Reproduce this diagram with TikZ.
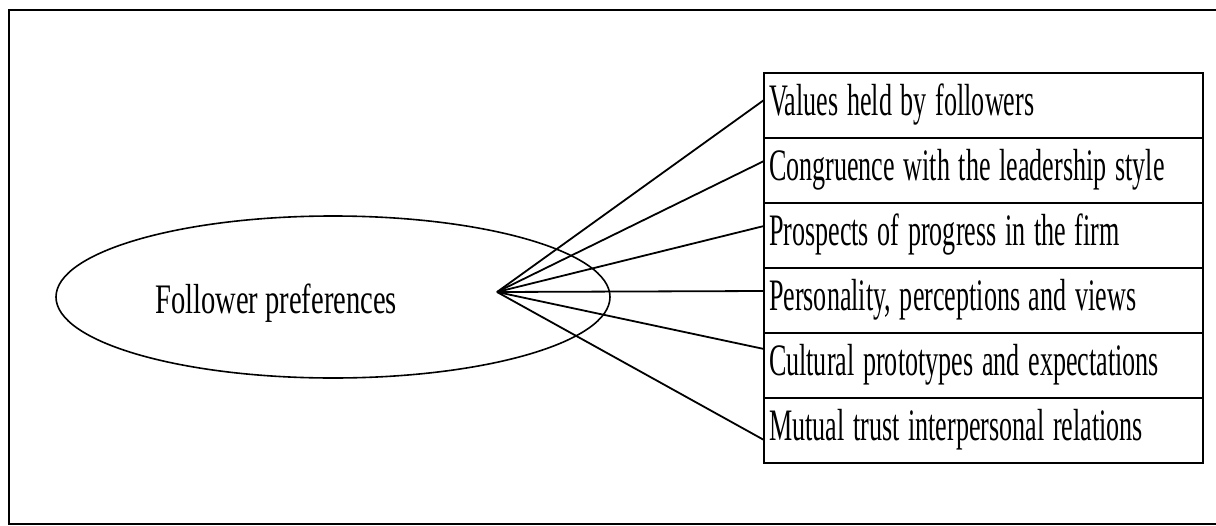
\documentclass[tikz,border=0pt]{standalone}
\usepackage{fontspec}
\setmainfont{Liberation Serif}
\usetikzlibrary{calc,shapes.geometric}
% narrow, tall lettering used throughout the chart
\newcommand\squeezeitem[1]{\scalebox{0.58}[1]{#1}}
\newcommand\squeezehub[1]{\scalebox{0.68}[1]{#1}}
\begin{document}
\begin{tikzpicture}[x=1pt,y=-1pt,
  frame/.style={line width=2.2pt},
  item/.style={draw, line width=1.8pt, anchor=north west,
    minimum width=439pt, minimum height=65pt,
    inner xsep=5pt, inner ysep=0pt, outer sep=0pt,
    text width=429pt, align=left,
    text height=30pt, text depth=11pt,
    font=\fontsize{45}{50}\selectfont},
  link/.style={line width=1.8pt},
  hubshape/.style={draw, ellipse, line width=1.6pt,
    minimum width=554pt, minimum height=162pt, inner sep=0pt}]
\useasboundingbox (0,0) rectangle (1216,525);

% outer frame (open on the right)
\draw[frame] (1216,10) -- (9,10) -- (9,524) -- (1216,524);

% central ellipse and its caption
\node[hubshape] (pref) at (333,297) {};
\node[anchor=base west, inner sep=0pt, font=\fontsize{42}{48}\selectfont]
  (preflabel) at (155,313) {\squeezehub{Follower preferences}};
\coordinate (hub) at (497,292);

% stacked factor boxes
\node[item] (b1) at (764,73)  {\squeezeitem{Values held by followers}};
\node[item] (b2) at (764,138) {\squeezeitem{Congruence with the leadership style}};
\node[item] (b3) at (764,203) {\squeezeitem{Prospects of progress in the firm}};
\node[item] (b4) at (764,268) {\squeezeitem{Personality, perceptions and views}};
\node[item] (b5) at (764,333) {\squeezeitem{Cultural prototypes and expectations}};
\node[item] (b6) at (764,398) {\squeezeitem{Mutual trust interpersonal relations}};

% spokes from the hub to each box
\draw[link] (hub) -- ($(b1.north west)+(0,27)$);
\draw[link] (hub) -- ($(b2.north west)+(0,23)$);
\draw[link] (hub) -- ($(b3.north west)+(0,23)$);
\draw[link] (hub) -- ($(b4.north west)+(0,23)$);
\draw[link] (hub) -- ($(b5.north west)+(0,16)$);
\draw[link] (hub) -- ($(b6.north west)+(0,42)$);
\end{tikzpicture}
\end{document}
